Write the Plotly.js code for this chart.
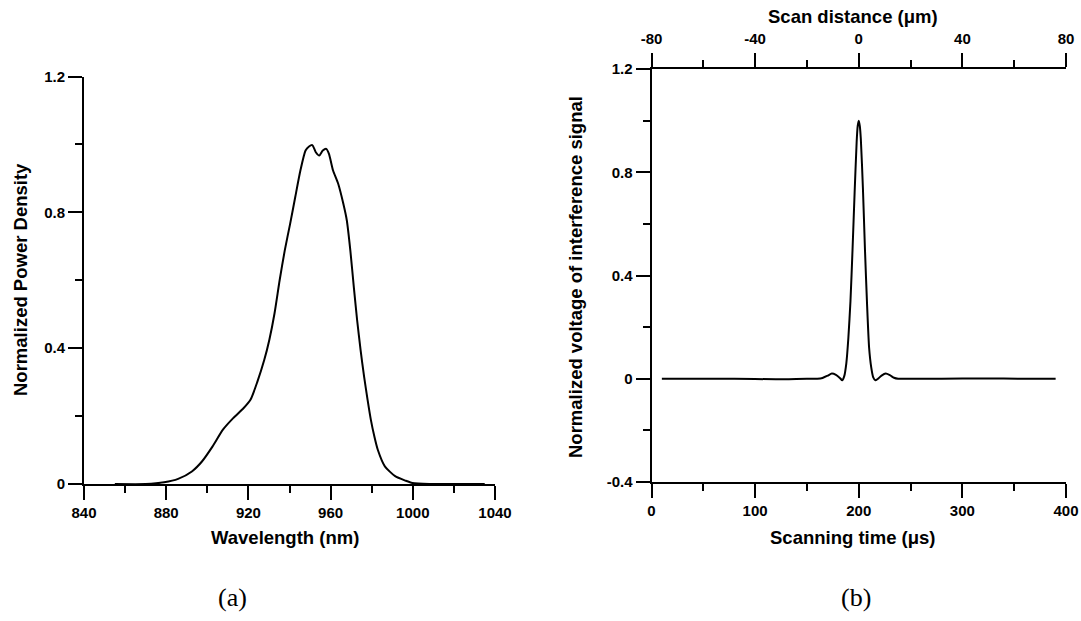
<!DOCTYPE html>
<html>
<head>
<meta charset="utf-8">
<script src="https://cdn.plot.ly/plotly-3.0.1.min.js"></script>
<style>html,body{margin:0;padding:0;background:#fff;}#chart{width:1081px;height:621px;}</style>
</head>
<body>
<div id="chart"></div>
<script>
// (a) Spectrum
const wavelength = [855, 870, 879, 885.8, 892.5, 897.5, 902.5, 907.6, 912.6, 917.6, 921, 924.3, 927.7, 930.2, 932.7, 935.2, 937.7, 940.3, 942.8, 945.3, 947.8, 949.5, 951.1, 952.8, 954.5, 956.2, 957.9, 959.2, 961.2, 963.7, 966.2, 967.9, 969.6, 971.3, 972.9, 974.6, 976.3, 978, 979.6, 981.3, 983, 986.4, 991.4, 996.4, 999.8, 1008, 1020, 1035];
const powerDensity = [0, 0, 0.005, 0.015, 0.037, 0.067, 0.11, 0.16, 0.194, 0.223, 0.248, 0.30, 0.365, 0.425, 0.502, 0.60, 0.688, 0.766, 0.845, 0.923, 0.982, 0.994, 0.998, 0.977, 0.967, 0.982, 0.987, 0.972, 0.923, 0.884, 0.825, 0.776, 0.688, 0.58, 0.483, 0.394, 0.316, 0.248, 0.189, 0.14, 0.10, 0.052, 0.023, 0.01, 0.003, 0, 0, 0];

// (b) Interference signal
const scanTime = [10, 40, 80, 120, 150, 160, 165, 170, 174, 178, 182, 184, 186, 188, 190, 192, 194, 196, 198, 199, 200, 201, 202, 204, 206, 208, 210, 212, 214, 216, 218, 222, 226, 230, 234, 238, 245, 280, 320, 360, 390];
const signalVoltage = [0, 0, 0, -0.002, 0, 0, 0.003, 0.012, 0.02, 0.015, 0.002, -0.006, 0.01, 0.06, 0.16, 0.30, 0.50, 0.72, 0.92, 0.98, 1.0, 0.98, 0.93, 0.74, 0.50, 0.29, 0.12, 0.045, 0.005, -0.006, -0.002, 0.012, 0.02, 0.014, 0.004, 0, 0, 0, 0.001, 0, 0];

// tick labels
const aYTicks = [0, 0.4, 0.8, 1.2];
const aYLabels = ['0', '0.4', '0.8', '1.2'];
const aXTicks = [840, 880, 920, 960, 1000, 1040];
const aXLabels = ['840', '880', '920', '960', '1000', '1040'];
const bYTicks = [-0.4, 0, 0.4, 0.8, 1.2];
const bYLabels = ['-0.4', '0', '0.4', '0.8', '1.2'];
const bXTicks = [0, 100, 200, 300, 400];
const bXLabels = ['0', '100', '200', '300', '400'];
const bTopTicks = [-80, -40, 0, 40, 80];
const bTopLabels = ['-80', '-40', '0', '40', '80'];

const W = 1081, H = 621;
const FONT = 'Liberation Sans, Arial, Helvetica, sans-serif';
const tickFont = {family: FONT, size: 15, color: '#000'};
const titleFont = {family: FONT, size: 18.5, color: '#000'};
const bold = arr => arr.map(s => '<b>' + s + '</b>');

function minor(dtick, tick0) {
  return {ticks: 'outside', ticklen: 7, tickwidth: 2, tickcolor: '#000', dtick: dtick, tick0: tick0, showgrid: false};
}
function ax(extra) {
  return Object.assign({
    showgrid: false, zeroline: false, showline: true, linecolor: '#000', linewidth: 2,
    ticks: 'outside', ticklen: 14, tickwidth: 2, tickcolor: '#000',
    tickfont: tickFont, tickmode: 'array', fixedrange: true
  }, extra);
}

const traces = [
  {x: wavelength, y: powerDensity, type: 'scatter', mode: 'lines', xaxis: 'x', yaxis: 'y',
   line: {color: '#000', width: 2, shape: 'spline', smoothing: 0.6}, hoverinfo: 'skip'},
  {x: scanTime, y: signalVoltage, type: 'scatter', mode: 'lines', xaxis: 'x2', yaxis: 'y2',
   line: {color: '#000', width: 2, shape: 'spline', smoothing: 0.6}, hoverinfo: 'skip'},
  {x: [], y: [], type: 'scatter', xaxis: 'x3', yaxis: 'y2', showlegend: false}
];

const layout = {
  width: W, height: H,
  margin: {l: 0, r: 0, t: 0, b: 0},
  paper_bgcolor: '#fff', plot_bgcolor: 'rgba(0,0,0,0)',
  showlegend: false,
  xaxis: ax({domain: [84/W, 495/W], range: [840, 1040], anchor: 'y',
    tickvals: aXTicks, ticktext: bold(aXLabels), minor: minor(20, 840)}),
  yaxis: ax({domain: [(H-484)/H, (H-76.5)/H], range: [0, 1.2], anchor: 'x',
    tickvals: aYTicks, ticktext: bold(aYLabels), minor: minor(0.2, 0)}),
  xaxis2: ax({domain: [651.5/W, 1066/W], range: [0, 400], anchor: 'y2',
    tickvals: bXTicks, ticktext: bold(bXLabels), minor: minor(50, 0)}),
  xaxis3: ax({domain: [651.5/W, 1066/W], range: [-80, 80], anchor: 'y2', overlaying: 'x2', side: 'top',
    ticklabelstandoff: 3,
    tickvals: bTopTicks, ticktext: bold(bTopLabels), minor: minor(20, -80)}),
  yaxis2: ax({domain: [(H-482)/H, (H-69)/H], range: [-0.4, 1.2], anchor: 'x2',
    tickvals: bYTicks, ticktext: bold(bYLabels), minor: minor(0.2, -0.4)}),
  annotations: [
    {text: '<b>Wavelength (nm)</b>', x: 285/W, y: (H-537)/H, xref: 'paper', yref: 'paper', xanchor: 'center', yanchor: 'middle', showarrow: false, font: titleFont},
    {text: '<b>Normalized Power Density</b>', x: 20/W, y: (H-280)/H, xref: 'paper', yref: 'paper', xanchor: 'center', yanchor: 'middle', textangle: -90, showarrow: false, font: titleFont},
    {text: '<b>Scanning time (\u03bcs)</b>', x: 853/W, y: (H-537)/H, xref: 'paper', yref: 'paper', xanchor: 'center', yanchor: 'middle', showarrow: false, font: titleFont},
    {text: '<b>Scan distance (\u03bcm)</b>', x: 853/W, y: (H-16)/H, xref: 'paper', yref: 'paper', xanchor: 'center', yanchor: 'middle', showarrow: false, font: titleFont},
    {text: '<b>Normalized voltage of interference signal</b>', x: 575/W, y: (H-277)/H, xref: 'paper', yref: 'paper', xanchor: 'center', yanchor: 'middle', textangle: -90, showarrow: false, font: titleFont},
    {text: '(a)', x: 232/W, y: (H-597)/H, xref: 'paper', yref: 'paper', xanchor: 'center', yanchor: 'middle', showarrow: false, font: {family: 'Liberation Serif, Times New Roman, serif', size: 26, color: '#000'}},
    {text: '(b)', x: 856/W, y: (H-597)/H, xref: 'paper', yref: 'paper', xanchor: 'center', yanchor: 'middle', showarrow: false, font: {family: 'Liberation Serif, Times New Roman, serif', size: 26, color: '#000'}}
  ]
};

Plotly.newPlot('chart', traces, layout, {staticPlot: true, displayModeBar: false});
</script>
</body>
</html>
